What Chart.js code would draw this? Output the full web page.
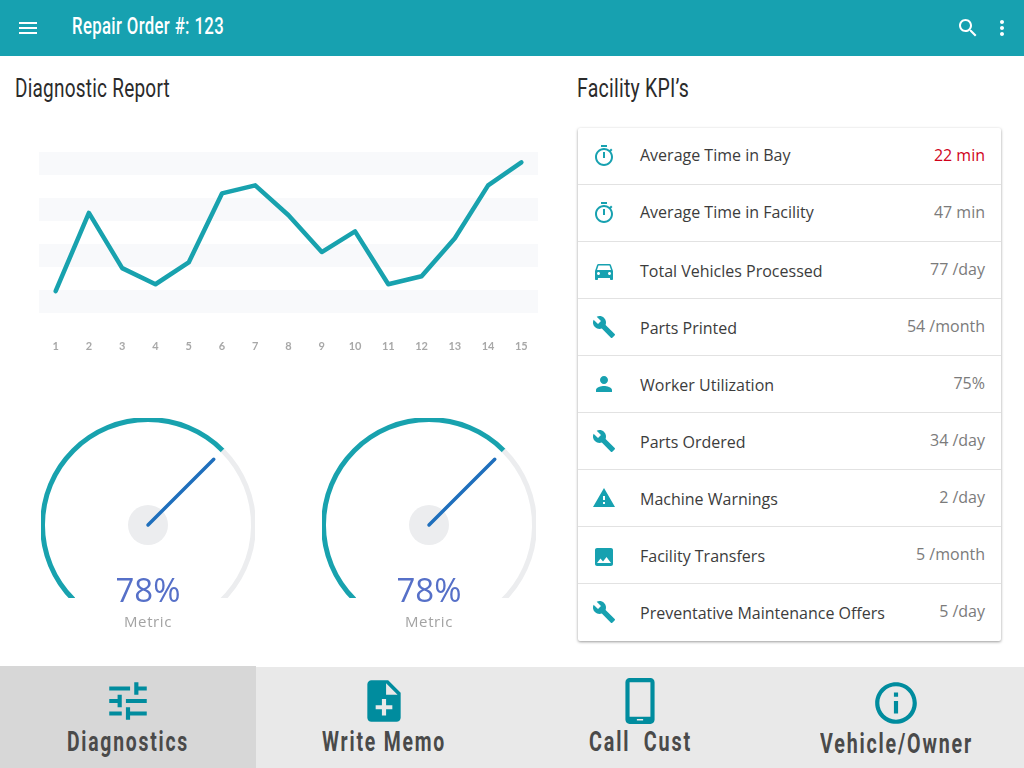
<!DOCTYPE html>
<html><head><meta charset="utf-8">
<script src="https://cdn.jsdelivr.net/npm/chart.js@4"></script>
<style>
html,body{margin:0;padding:0;background:#fff;width:1024px;height:768px;overflow:hidden}
body{position:relative;font-family:"Open Sans",sans-serif}
.abs{position:absolute}
.osw{font-family:"Roboto",sans-serif;white-space:pre;transform-origin:0 50%}
#top{left:0;top:0;width:1024px;height:56px;background:#17a1b0}
.gwrap{position:absolute;top:418px;width:214px;height:180px;overflow:hidden}
.gwrap canvas{position:absolute;left:-13px;top:-13px}
.pct{position:absolute;width:214px;text-align:center;font-size:33px;color:#5670c8;top:569px;line-height:42px}
.met{position:absolute;width:214px;text-align:center;font-size:15px;color:#a3a3a3;top:611px;line-height:20px;letter-spacing:.6px}
#card{left:578px;top:128px;width:423px;height:513px;background:#fff;box-shadow:0 1px 3px rgba(0,0,0,.4);border-radius:2px}
.sep{position:absolute;left:0;width:423px;height:1px;background:#e2e2e2}
.lab{position:absolute;left:640px;font-size:16px;color:#3c3c3c;line-height:22px;white-space:nowrap}
.val{position:absolute;right:39px;font-size:16px;color:#7b7b7b;line-height:22px;white-space:nowrap}
.ic{position:absolute;fill:#17a1b0}
.nav{position:absolute;top:667px;height:101px;width:256px;background:#e9e9e9}
.ni{position:absolute;fill:#008c9e}
</style></head><body>
<div id="top" class="abs"></div>
<div id="nodes"></div>
<canvas id="line" class="abs" style="left:0;top:120px" width="560" height="250"></canvas>
<div class="gwrap" style="left:41px"><canvas id="g0" width="240" height="240"></canvas></div>
<div class="gwrap" style="left:322px"><canvas id="g1" width="240" height="240"></canvas></div>
<div class="pct" id="p0" style="left:41px"></div><div class="met" id="m0" style="left:41px"></div>
<div class="pct" id="p1" style="left:322px"></div><div class="met" id="m1" style="left:322px"></div>
<script>
const categories=["1","2","3","4","5","6","7","8","9","10","11","12","13","14","15"];
const lineValues=[9.5,43.5,19.5,12.5,22,52,55.5,42.5,26.5,35.5,12.5,16,32.5,55.5,65.5];
const gaugeLabels=["78%","78%"];
const gaugeNames=["Metric","Metric"];
const gaugeSegments=[78,40,38];
const kpiLabels=["Average Time in Bay","Average Time in Facility","Total Vehicles Processed","Parts Printed","Worker Utilization","Parts Ordered","Machine Warnings","Facility Transfers","Preventative Maintenance Offers"];
const kpiValues=["22 min","47 min","77 /day","54 /month","75%","34 /day","2 /day","5 /month","5 /day"];
const kpiIcons=["timer","timer","car","build","person","build","warning","image","build"];
const navLabels=["Diagnostics","Write Memo","Call  Cust","Vehicle/Owner"];

const P={
menu:"M3 18h18v-2H3v2zm0-5h18v-2H3v2zm0-7v2h18V6H3z",
search:"M15.5 14h-.79l-.28-.27C15.41 12.59 16 11.11 16 9.5 16 5.91 13.09 3 9.5 3S3 5.91 3 9.5 5.91 16 9.5 16c1.61 0 3.09-.59 4.23-1.57l.27.28v.79l5 4.99L20.49 19l-4.99-5zm-6 0C7.01 14 5 11.99 5 9.5S7.01 5 9.5 5 14 7.01 14 9.5 11.99 14 9.5 14z",
more:"M12 8c1.1 0 2-.9 2-2s-.9-2-2-2-2 .9-2 2 .9 2 2 2zm0 2c-1.1 0-2 .9-2 2s.9 2 2 2 2-.9 2-2-.9-2-2-2zm0 6c-1.1 0-2 .9-2 2s.9 2 2 2 2-.9 2-2-.9-2-2-2z",
timer:"M15 1H9v2h6V1zm-4 13h2V8h-2v6zm8.03-6.61l1.42-1.42c-.43-.51-.9-.99-1.41-1.41l-1.42 1.42C16.07 4.74 14.12 4 12 4c-4.97 0-9 4.03-9 9s4.02 9 9 9 9-4.03 9-9c0-2.12-.74-4.07-1.97-5.61zM12 20c-3.87 0-7-3.13-7-7s3.13-7 7-7 7 3.13 7 7-3.13 7-7 7z",
car:"M18.92 6.01C18.72 5.42 18.16 5 17.5 5h-11c-.66 0-1.21.42-1.42 1.01L3 12v8c0 .55.45 1 1 1h1c.55 0 1-.45 1-1v-1h12v1c0 .55.45 1 1 1h1c.55 0 1-.45 1-1v-8l-2.08-5.99zM6.5 16c-.83 0-1.5-.67-1.5-1.5S5.67 13 6.5 13s1.5.67 1.5 1.5S7.33 16 6.5 16zm11 0c-.83 0-1.5-.67-1.5-1.5s.67-1.5 1.5-1.5 1.5.67 1.5 1.5-.67 1.5-1.5 1.5zM5 11l1.5-4.5h11L19 11H5z",
build:"M22.7 19l-9.1-9.1c.9-2.3.4-5-1.5-6.9-2-2-5-2.4-7.4-1.3L9 6 6 9 1.6 4.7C.4 7.1.9 10.1 2.9 12.1c1.9 1.9 4.6 2.4 6.9 1.5l9.1 9.1c.4.4 1 .4 1.4 0l2.3-2.3c.5-.4.5-1.1.1-1.4z",
person:"M12 12c2.21 0 4-1.79 4-4s-1.79-4-4-4-4 1.79-4 4 1.79 4 4 4zm0 2c-2.67 0-8 1.34-8 4v2h16v-2c0-2.66-5.33-4-8-4z",
warning:"M1 21h22L12 2 1 21zm12-3h-2v-2h2v2zm0-4h-2v-4h2v4z",
image:"M21 19V5c0-1.1-.9-2-2-2H5c-1.1 0-2 .9-2 2v14c0 1.1.9 2 2 2h14c1.1 0 2-.9 2-2zM8.5 13.5l2.5 3.01L14.5 12l4.5 6H5l3.5-4.5z",
tune:"M3 17v2h6v-2H3zM3 5v2h10V5H3zm10 16v-2h8v-2h-8v-2h-2v6h2zM7 9v2H3v2h4v2h2V9H7zm14 4v-2H11v2h10zm-6-4h2V7h4V5h-4V3h-2v6z",
note:"M14 2H6c-1.1 0-1.99.9-1.99 2L4 20c0 1.1.89 2 1.99 2H18c1.1 0 2-.9 2-2V8l-6-6zm2 14h-3v3h-2v-3H8v-2h3v-3h2v3h3v2zm-3-7V3.5L18.5 9H13z",
phone:"M17 1.01L7 1c-1.1 0-2 .9-2 2v18c0 1.1.9 2 2 2h10c1.1 0 2-.9 2-2V3c0-1.1-.9-1.99-2-1.99zM17 19.5H7V3h10v16.5zM10.5 20.6h3v.8h-3z",
info:"M11 17h2v-6h-2v6zm1-15C6.48 2 2 6.48 2 12s4.48 10 10 10 10-4.48 10-10S17.52 2 12 2zm0 18c-4.41 0-8-3.59-8-8s3.59-8 8-8 8 3.59 8 8-3.59 8-8 8zM11 9h2V7h-2v2z"};
const host=document.getElementById('nodes');
function icon(name,cx,cy,size,cls,fill){
  const s=document.createElementNS('http://www.w3.org/2000/svg','svg');
  s.setAttribute('viewBox','0 0 24 24');s.setAttribute('width',size);s.setAttribute('height',size);
  s.setAttribute('class',cls);s.style.left=(cx-size/2)+'px';s.style.top=(cy-size/2)+'px';
  if(fill)s.style.fill=fill;
  const p=document.createElementNS('http://www.w3.org/2000/svg','path');p.setAttribute('d',P[name]);p.setAttribute('fill-rule','evenodd');s.appendChild(p);host.appendChild(s);
}
function fitted(text,x,cy,w,size,weight,color,lh,ls){
  const d=document.createElement('div');d.className='abs osw';d.textContent=text;
  d.style.cssText+=`left:${x}px;font-size:${size}px;line-height:${lh}px;top:${cy-lh/2}px;font-weight:${weight};color:${color};letter-spacing:${ls||0}px`;
  host.appendChild(d);
  const r=d.getBoundingClientRect().width;d.style.transform=`scaleX(${w/r})`;
  return d;
}
icon('menu',28,28,24,'ic','#fff');icon('search',968,28,24,'ic','#fff');icon('more',1002,28,24,'ic','#fff');
fitted("Repair Order #: 123",72,27,152,23,500,'#fff',28,.5);
fitted("Diagnostic Report",15,89,155,25,400,'#2b2b2b',34,.3);
fitted("Facility KPI’s",577,89,112,25,400,'#2b2b2b',34,.3);

const card=document.createElement('div');card.id='card';card.className='abs';host.appendChild(card);
const sepYs=[56,113,170,227,284,341,398,455];
sepYs.forEach(y=>{const s=document.createElement('div');s.className='sep';s.style.top=y+'px';card.appendChild(s);});
const labY=[155,212,271,328,385,442,499,556,613],valY=[155,212,269,326,383,440,497,554,611],icY=[156,213,271,327,384,441,498,557,612];
kpiLabels.forEach((t,i)=>{
  const a=document.createElement('div');a.className='lab';a.textContent=t;a.style.top=(labY[i]-11)+'px';host.appendChild(a);
  const b=document.createElement('div');b.className='val';b.textContent=kpiValues[i];b.style.top=(valY[i]-11)+'px';if(i==0)b.style.color='#d0021b';host.appendChild(b);
  icon(kpiIcons[i],604,icY[i],24,'ic');
});
const navX=[0,256,512,768],navW=[122,124,103,153],navCy=[742,742,742,744],navIc=['tune','note','phone','info'],navIcY=[701,701,701,703];
navLabels.forEach((t,i)=>{
  const n=document.createElement('div');n.className='nav';n.style.left=navX[i]+'px';
  if(i==0){n.style.background='#d7d7d7';n.style.top='666px';n.style.height='102px';}
  host.appendChild(n);
  icon(navIc[i],navX[i]+128,navIcY[i],50,'ni');
  fitted(t,navX[i]+128-navW[i]/2,navCy[i],navW[i],27,700,'#4a4a4a',34,2.5);
});

const bands={id:'bands',beforeDatasetsDraw(c){
  const y=c.scales.y,a=c.chartArea,ctx=c.ctx;ctx.save();ctx.fillStyle='#f8f9fb';
  for(let i=0;i<y.ticks.length-1;i+=2){
    const p0=y.getPixelForValue(y.ticks[i].value),p1=y.getPixelForValue(y.ticks[i+1].value);
    ctx.fillRect(a.left,Math.min(p0,p1),a.right-a.left,Math.abs(p1-p0));
  }ctx.restore();}};
new Chart(document.getElementById('line'),{type:'line',plugins:[bands],
 data:{labels:categories,datasets:[{data:lineValues,borderColor:'#18a2ae',borderWidth:4.5,pointRadius:0,tension:0,borderJoinStyle:'round',borderCapStyle:'round',fill:false}]},
 options:{responsive:false,animation:false,layout:{padding:{left:39,right:22,top:32,bottom:12}},
  plugins:{legend:{display:false},tooltip:{enabled:false}},
  scales:{x:{offset:true,grid:{display:false},border:{display:false},afterFit(s){s.height=45},
     ticks:{color:'#a8a8a8',font:{family:'Lato',size:11,weight:'bold'},padding:19,maxRotation:0,autoSkip:false}},
    y:{display:false,min:0,max:70,ticks:{stepSize:10}}}}});

const needle={id:'needle',afterDatasetsDraw(c){
  const arc=c.getDatasetMeta(0).data[0],ctx=c.ctx,x=arc.x,y=arc.y;
  const ang=arc.endAngle;
  ctx.save();
  ctx.fillStyle='#ecedef';ctx.beginPath();ctx.arc(x,y,20,0,Math.PI*2);ctx.fill();
  ctx.strokeStyle='#1f6fbc';ctx.lineWidth=3.5;ctx.lineCap='round';
  ctx.beginPath();ctx.moveTo(x,y);ctx.lineTo(x+93*Math.cos(ang),y+93*Math.sin(ang));ctx.stroke();
  ctx.restore();}};
gaugeLabels.forEach((t,i)=>{
  document.getElementById('p'+i).textContent=t;
  document.getElementById('m'+i).textContent=gaugeNames[i];
  new Chart(document.getElementById('g'+i),{type:'doughnut',plugins:[needle],
   data:{datasets:[{data:gaugeSegments,backgroundColor:['#18a2ae','#ecedef','rgba(0,0,0,0)'],borderWidth:0}]},
   options:{responsive:false,animation:false,rotation:-135,circumference:360,radius:108,cutout:'95.4%',
    plugins:{legend:{display:false},tooltip:{enabled:false}}}});
});
</script></body></html>
